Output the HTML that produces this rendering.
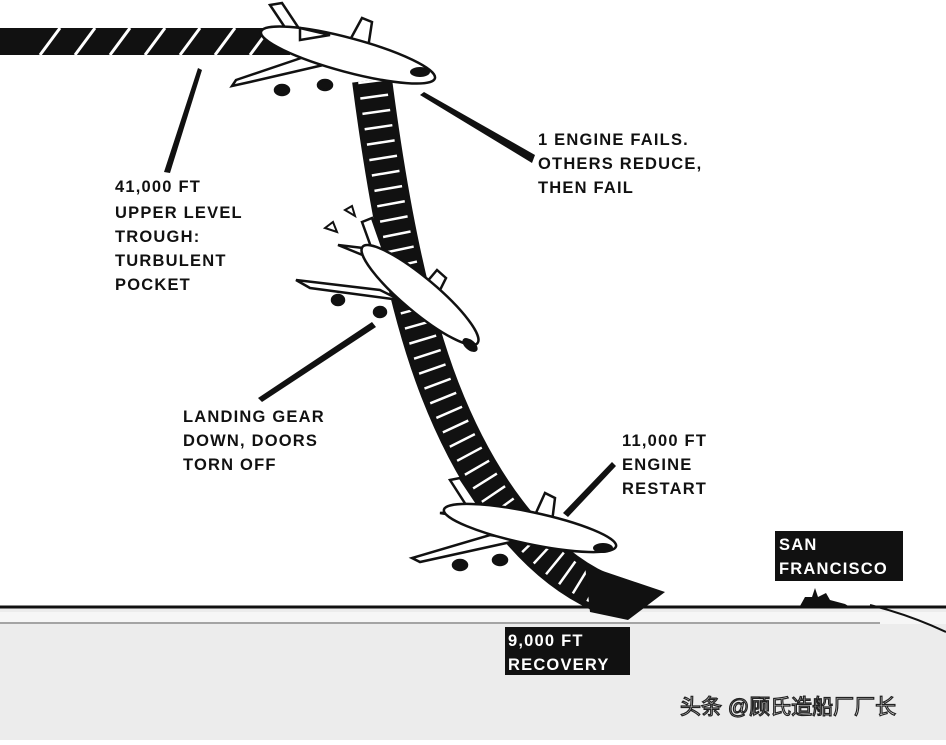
<!DOCTYPE html>
<html><head><meta charset="utf-8"><style>
html,body{margin:0;padding:0;background:#fff}
svg text{font-family:"Liberation Sans","Noto Sans CJK SC",sans-serif;font-weight:bold}
.d{fill:#111}
.w{fill:#fff}
</style></head><body>
<svg width="946" height="740" viewBox="0 0 946 740" xmlns="http://www.w3.org/2000/svg">
<rect width="946" height="740" fill="#fff"/>
<rect x="0" y="607" width="946" height="133" fill="#ececec"/>
<rect x="0" y="612" width="946" height="12" fill="#f6f6f6"/>
<line x1="0" y1="607" x2="946" y2="607" stroke="#111" stroke-width="3"/>
<line x1="0" y1="623" x2="880" y2="623" stroke="#888" stroke-width="1.5"/>
<path d="M870,605 Q910,615 946,632" stroke="#111" stroke-width="2" fill="none"/>
<path d="M800,606 L805,597 L812,597 L815,588 L818,597 L826,593 L830,600 L845,604 L850,607 Z" fill="#111"/>
<rect x="0" y="28" width="290" height="27" fill="#111"/>
<g stroke="#fff" stroke-width="3">
<line x1="40" y1="55" x2="60" y2="28"/><line x1="75" y1="55" x2="95" y2="28"/><line x1="110" y1="55" x2="130" y2="28"/><line x1="145" y1="55" x2="165" y2="28"/><line x1="180" y1="55" x2="200" y2="28"/><line x1="215" y1="55" x2="235" y2="28"/><line x1="250" y1="55" x2="270" y2="28"/>
</g>
<path d="M372,80 C385,180 405,300 440,390 C475,480 530,560 600,592" stroke="#111" stroke-width="40" fill="none"/>
<path d="M372,80 C385,180 405,300 440,390 C475,480 530,560 600,592" stroke="#fff" stroke-width="28" stroke-dasharray="2.5 13" fill="none"/>
<polygon points="585,565 665,592 628,620 590,612" fill="#111"/>
<polygon points="198,68 202,70 170,173 164,172" fill="#111"/>
<polygon points="420,95 424,92 535,155 532,163" fill="#111"/>
<polygon points="372,322 376,327 262,402 258,398" fill="#111"/>
<polygon points="612,462 616,466 568,517 563,513" fill="#111"/>
<g stroke="#111" stroke-width="2.5" fill="#fff">
<polygon points="270,5 282,3 300,30 290,35"/>
<polygon points="350,40 362,18 372,22 368,48"/>
<polygon points="310,55 345,60 250,82 232,86 236,80"/>
<ellipse cx="348" cy="55" rx="90" ry="17" transform="rotate(15 348 55)"/>
<polygon points="300,40 330,35 300,28"/>
<ellipse cx="282" cy="90" rx="7" ry="5" fill="#111"/><ellipse cx="325" cy="85" rx="7" ry="5" fill="#111"/>
</g>
<ellipse cx="420" cy="72" rx="10" ry="5" fill="#111"/>
<g stroke="#111" stroke-width="2.5" fill="#fff">
<polygon points="362,222 372,218 385,255 375,258"/>
<polygon points="420,290 437,270 446,278 435,300"/>
<polygon points="338,245 380,250 365,256"/>
<polygon points="380,290 400,300 310,288 296,280"/>
<ellipse cx="420" cy="295" rx="75" ry="17" transform="rotate(40 420 295)"/>
<ellipse cx="338" cy="300" rx="6" ry="5" fill="#111"/><ellipse cx="380" cy="312" rx="6" ry="5" fill="#111"/>
</g>
<polygon points="325,228 333,222 337,232" fill="none" stroke="#111" stroke-width="2"/>
<polygon points="345,210 352,206 355,216" fill="none" stroke="#111" stroke-width="2"/>
<ellipse cx="470" cy="345" rx="9" ry="5" fill="#111" transform="rotate(40 470 345)"/>
<g stroke="#111" stroke-width="2.5" fill="#fff">
<polygon points="450,480 460,478 478,505 468,508"/>
<polygon points="535,515 545,493 555,498 552,522"/>
<polygon points="440,513 480,510 470,518"/>
<polygon points="490,535 520,540 420,562 412,558"/>
<ellipse cx="530" cy="528" rx="88" ry="16" transform="rotate(12 530 528)"/>
<ellipse cx="460" cy="565" rx="7" ry="5" fill="#111"/><ellipse cx="500" cy="560" rx="7" ry="5" fill="#111"/>
</g>
<ellipse cx="603" cy="548" rx="10" ry="5" fill="#111"/>
<g font-size="16.5" letter-spacing="1.2">
<text class="d" x="115" y="192">41,000 FT</text>
<text class="d" x="115" y="218">UPPER LEVEL</text>
<text class="d" x="115" y="242">TROUGH:</text>
<text class="d" x="115" y="266">TURBULENT</text>
<text class="d" x="115" y="290">POCKET</text>
<text class="d" x="538" y="145">1 ENGINE FAILS.</text>
<text class="d" x="538" y="169">OTHERS REDUCE,</text>
<text class="d" x="538" y="193">THEN FAIL</text>
<text class="d" x="183" y="422">LANDING GEAR</text>
<text class="d" x="183" y="446">DOWN, DOORS</text>
<text class="d" x="183" y="470">TORN OFF</text>
<text class="d" x="622" y="446">11,000 FT</text>
<text class="d" x="622" y="470">ENGINE</text>
<text class="d" x="622" y="494">RESTART</text>
</g>
<rect x="775" y="531" width="128" height="50" fill="#111"/>
<rect x="505" y="627" width="125" height="48" fill="#111"/>
<g font-size="16.5" letter-spacing="1.2">
<text class="w" x="779" y="550">SAN</text>
<text class="w" x="779" y="574">FRANCISCO</text>
<text class="w" x="508" y="646">9,000 FT</text>
<text class="w" x="508" y="670">RECOVERY</text>
</g>
<text x="680" y="714" font-size="21" style="fill:#fff;stroke:#222;stroke-width:1.2;font-weight:normal">头条 @顾氏造船厂厂长</text>
</svg>
</body></html>
